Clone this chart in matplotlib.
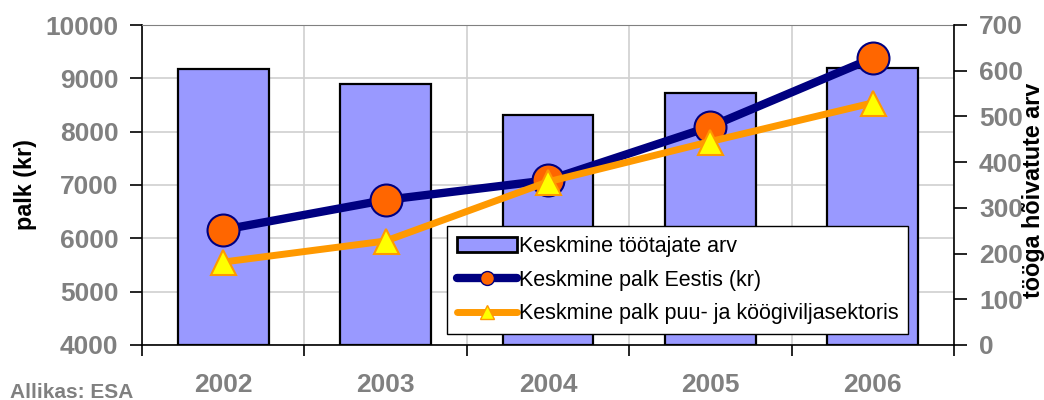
import numpy as np
import matplotlib.pyplot as plt
from matplotlib.lines import Line2D
from matplotlib.patches import Patch

plt.rcParams['font.family'] = ['Liberation Sans', 'DejaVu Sans']
plt.rcParams['font.weight'] = 'bold'

# andmed
years = ['2002', '2003', '2004', '2005', '2006']
tootajad = [604, 571, 503, 551, 606]
palk_eesti = [6160, 6720, 7090, 8095, 9380]
palk_sektor = [5555, 5950, 7060, 7815, 8540]

grey = '#808080'
x = np.arange(len(years))

fig = plt.figure(figsize=(10.44, 4), dpi=100)
ax = fig.add_axes([142/1044, 55/400, 812/1044, 320/400])
ax2 = ax.twinx()
ax3 = ax.twinx()
ax.set_zorder(0)
ax2.set_zorder(1)
ax3.set_zorder(2)

# vasak telg + ruudustik
ax.set_ylim(4000, 10000)
ax.set_yticks(range(4000, 10001, 1000))
ax.set_xlim(-0.5, len(years) - 0.5)
ax.set_xticks(np.arange(-0.5, len(years)))
ax.set_xticklabels([])
ax.set_xticks(x, minor=True)
ax.set_xticklabels(years, minor=True)
ax.grid(True, color='#d0d0d0', lw=1.2)
ax.set_axisbelow(True)
ax.tick_params(axis='y', labelsize=19, labelcolor=grey, length=9, width=1.2, pad=8)
ax.tick_params(axis='x', which='major', length=8, width=1.2)
ax.tick_params(axis='x', which='minor', length=0, labelsize=19, labelcolor=grey, pad=20)
ax.spines['top'].set_color(grey)
ax.spines['right'].set_visible(False)
for s in ['left', 'bottom']:
    ax.spines[s].set_linewidth(1.2)
ax.set_ylabel('palk (kr)', fontsize=16.8, fontweight='bold')
ax.yaxis.set_label_coords(-0.1293, 0.5)

# tulbad paremal teljel
ax2.bar(x, tootajad, width=0.56, color='#9999FF', edgecolor='black', lw=1.6)
ax2.set_ylim(0, 700)
ax2.set_yticks(range(0, 701, 100))
ax2.tick_params(axis='y', labelsize=19, labelcolor=grey, length=9, width=1.2, pad=9)
for s in ['top', 'left', 'bottom']:
    ax2.spines[s].set_visible(False)
ax2.spines['right'].set_linewidth(1.2)
ax2.set_ylabel('tööga hõivatute arv', fontsize=16.8, fontweight='bold', rotation=90)
ax2.yaxis.set_label_coords(1.0837, 0.484)

# jooned
ax3.set_ylim(4000, 10000)
ax3.axis('off')
ax3.plot(x, palk_eesti, color='#000080', lw=6, marker='o', ms=23,
         mfc='#FF6600', mec='#000080', mew=1.5)
ax3.plot(x, palk_sektor, color='#FF9900', lw=5, marker='^', ms=18,
         mfc='#FFFF00', mec='#FF9900', mew=1.5)

handles = [
    Patch(facecolor='#9999FF', edgecolor='black', lw=2),
    Line2D([], [], color='#000080', lw=6, marker='o', ms=10, mfc='#FF6600', mec='#000080',
           solid_capstyle='round'),
    Line2D([], [], color='#FF9900', lw=5, marker='^', ms=10, mfc='#FFFF00', mec='#FF9900',
           solid_capstyle='round'),
]
labels = ['Keskmine töötajate arv', 'Keskmine palk Eestis (kr)',
          'Keskmine palk puu- ja köögiviljasektoris']
leg = ax3.legend(handles, labels, loc='lower left', bbox_to_anchor=(0.3756, 0.034),
                 borderaxespad=0, prop={'size': 15.5, 'weight': 'normal'},
                 frameon=True, fancybox=False, framealpha=1, edgecolor='black',
                 handlelength=2.8, handletextpad=0.1, labelspacing=0.6,
                 borderpad=0.45)
leg.get_frame().set_linewidth(1.0)

fig.text(10/1044, 2/400, 'Allikas: ESA', fontsize=15, color=grey, va='baseline')

fig.savefig('out.png', dpi=100)
